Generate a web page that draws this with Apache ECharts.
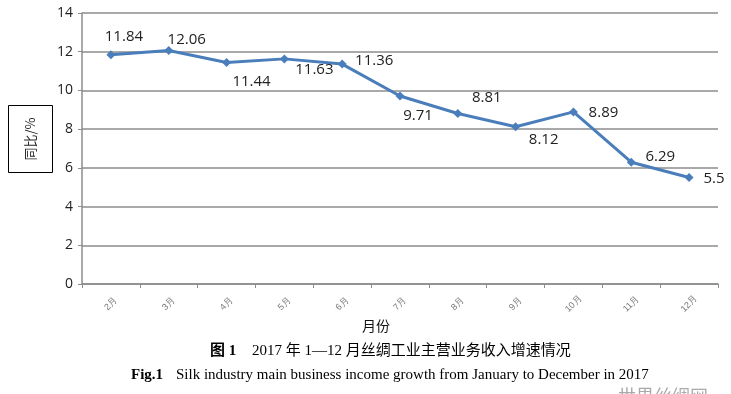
<!DOCTYPE html>
<html><head><meta charset="utf-8">
<script src="https://cdn.jsdelivr.net/npm/echarts@6/dist/echarts.min.js"></script>
<style>html,body{margin:0;padding:0;background:#fff}#c{width:731px;height:394px}</style>
</head><body><div id="c"></div>
<script>
const categories = ['2月','3月','4月','5月','6月','7月','8月','9月','10月','11月','12月'];
const growth = [11.84, 12.06, 11.44, 11.63, 11.36, 9.71, 8.81, 8.12, 8.89, 6.29, 5.5];
const yTicks = [0, 2, 4, 6, 8, 10, 12, 14];
const yTitle = '同比/%';
const xTitle = '月份';
const captionCn = '2017 年 1—12 月丝绸工业主营业务收入增速情况';
const captionEn = 'Silk industry main business income growth from January to December in 2017';

// label offsets (style only)
const labelOffsets = [[13,-18],[18,-11],[25,19],[30,11],[32,-3],[18,20],[29,-16],[28,13],[30,1],[29,-6],[25,1]];

const chart = echarts.init(document.getElementById('c'));
const serif = '"Liberation Serif","Noto Sans CJK SC",serif';
chart.setOption({
  animation: false,
  grid: {left: 82, right: 13, top: 13, bottom: 110},
  xAxis: {
    type: 'category', data: categories, boundaryGap: true,
    axisLine: {lineStyle: {color: '#8c8c8c', width: 1.5}},
    axisTick: {show: true, length: 4, inside: false, lineStyle: {color: '#8c8c8c'}},
    axisLabel: {rotate: 45, fontSize: 9, color: '#777', margin: 20, align: 'center', verticalAlign: 'middle'}
  },
  yAxis: {
    type: 'value', min: yTicks[0], max: yTicks[yTicks.length-1], interval: 2,
    axisLine: {show: true, lineStyle: {color: '#8c8c8c', width: 1.5}},
    axisTick: {show: true, length: 4, lineStyle: {color: '#8c8c8c'}},
    axisLabel: {fontSize: 14, color: '#222', margin: 9, fontFamily: '"Open Sans",sans-serif'},
    splitLine: {lineStyle: {color: '#8c8c8c', width: 1.5}}
  },
  series: [{
    type: 'line', data: growth.map((v, i) => ({
      value: v,
      label: {offset: labelOffsets[i]}
    })),
    lineStyle: {color: '#4a7ebb', width: 3},
    itemStyle: {color: '#4a7ebb'},
    symbol: 'diamond', symbolSize: 9,
    label: {show: true, position: 'inside', fontSize: 15, color: '#222', fontFamily: '"Open Sans",sans-serif'}
  }],
  graphic: [
    {type: 'rect', shape: {x: 8.5, y: 105.5, width: 44, height: 67}, style: {fill: '#fff', stroke: '#000', lineWidth: 1}},
    {type: 'text', x: 30, y: 139, rotation: Math.PI/2, style: {text: yTitle, fontSize: 13, fill: '#222', align: 'center', verticalAlign: 'middle', fontFamily: '"Noto Sans CJK SC",sans-serif'}},
    {type: 'text', x: 376, y: 327, style: {text: xTitle, fontSize: 14, fill: '#111', align: 'center', verticalAlign: 'middle', fontFamily: serif}},
    {type: 'text', x: 210, y: 351, style: {text: '图 1', fontSize: 15, fontWeight: 'bold', fill: '#000', align: 'left', verticalAlign: 'middle', fontFamily: serif}},
    {type: 'text', x: 252, y: 351, style: {text: captionCn, fontSize: 15, fill: '#000', align: 'left', verticalAlign: 'middle', fontFamily: serif}},
    {type: 'text', x: 131, y: 375, style: {text: 'Fig.1', fontSize: 15, fontWeight: 'bold', fill: '#000', align: 'left', verticalAlign: 'middle', fontFamily: serif}},
    {type: 'text', x: 176, y: 375, style: {text: captionEn, fontSize: 15, fill: '#000', align: 'left', verticalAlign: 'middle', fontFamily: serif}},
    {type: 'text', x: 618, y: 396, style: {text: '世界丝绸网', fontSize: 18, fill: '#aaa', align: 'left', verticalAlign: 'middle', fontFamily: '"Noto Sans CJK SC",sans-serif'}}
  ]
});
</script></body></html>
